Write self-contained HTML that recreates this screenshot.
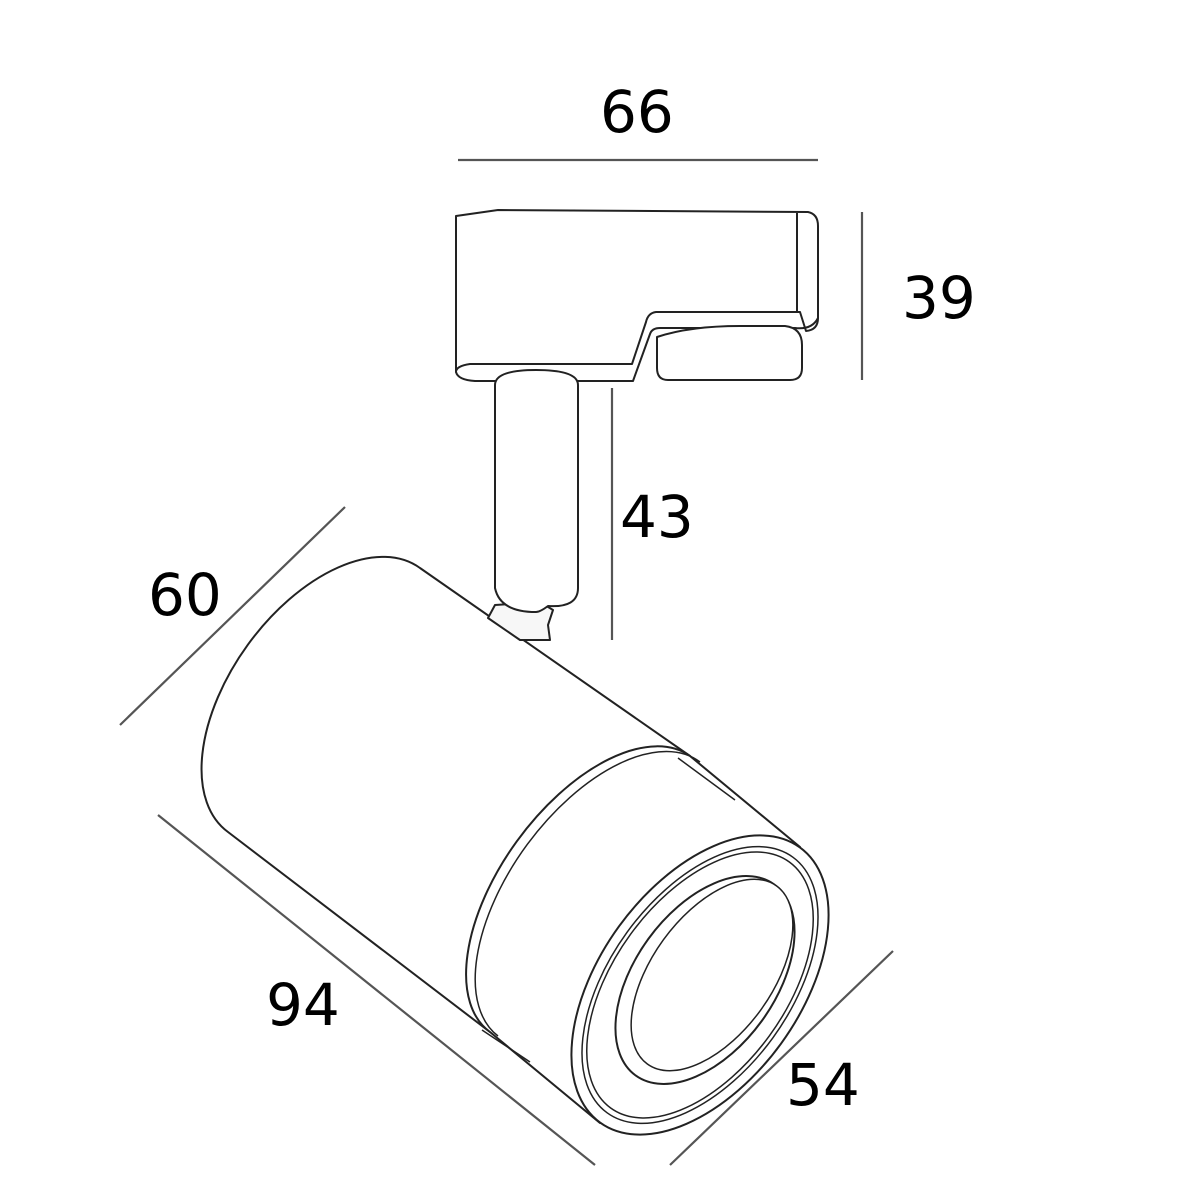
<!DOCTYPE html>
<html><head><meta charset="utf-8"><style>
html,body{margin:0;padding:0;background:#fff;}
svg{display:block;}
text{font-family:"DejaVu Sans","Liberation Sans",sans-serif;font-size:58px;fill:#000;}
</style></head><body>
<svg width="1200" height="1200" viewBox="0 0 1200 1200" xmlns="http://www.w3.org/2000/svg">
<g stroke="#555" stroke-width="2.2" fill="none">
<line x1="458" y1="160" x2="818" y2="160"/>
<line x1="862" y1="212" x2="862" y2="380"/>
<line x1="612" y1="388" x2="612" y2="640"/>
<line x1="120" y1="725" x2="345" y2="507"/>
<line x1="158" y1="815" x2="595" y2="1165"/>
<line x1="670" y1="1165" x2="893" y2="951"/>
</g>
<text x="600" y="132">66</text>
<text x="902" y="318">39</text>
<text x="620" y="537">43</text>
<text x="148" y="615">60</text>
<text x="266" y="1025">94</text>
<text x="786" y="1105">54</text>

<g stroke="#222" stroke-width="2" fill="#fff" stroke-linejoin="round">
<!-- adapter -->
<path d="M456,216 L498,210 L808,212 Q818,214 818,226 L818,318 Q818,330 806,331 L800,312 L656,312 Q648,313 646,322 L632,364 L470,364 Q456,366 456,372 Z"/>
<path d="M456,372 Q458,380 475,381 L633,381 L650,334 Q652,328 660,328 L795,328 Q812,330 818,318" fill="none"/>
<line x1="797" y1="213" x2="797" y2="312"/>
<path d="M657,337 Q690,326 740,326 L785,326 Q802,328 802,345 L802,368 Q802,380 790,380 L668,380 Q657,380 657,368 Z"/>
<!-- body -->
<path d="M420,568 L690,756 L490,1032 L228,832 A94 163 36 0 1 420,568 Z"/>
<!-- knuckle -->
<path d="M495,605 L540,602 L553,610 L548,625 L550,640 L520,640 L488,618 Z" fill="#f7f7f7"/>
<!-- stem -->
<path d="M495,385 Q495,370 536,370 Q578,370 578,385 L578,588 Q578,608 548,606 Q540,612 536,612 Q500,612 495,588 Z"/>
<!-- collar -->
<path d="M690,756 L800,847 L600,1123 L490,1032 A90 170 36 0 1 690,756 Z"/>
<path d="M700,762 A90 170 36 0 0 498,1036" fill="none" stroke-width="1.5"/>
<path d="M678,758 L735,800" fill="none" stroke-width="1.5"/>
<path d="M482,1030 L530,1062" fill="none" stroke-width="1.5"/>
<ellipse cx="700" cy="985" rx="100" ry="170" transform="rotate(36 700 985)"/>
<ellipse cx="700" cy="985" rx="90" ry="158" transform="rotate(36 700 985)" stroke-width="1.5"/>
<ellipse cx="700" cy="985" rx="86" ry="152" transform="rotate(36 700 985)" stroke-width="1.5"/>
<ellipse cx="705" cy="980" rx="70" ry="118" transform="rotate(36 705 980)"/>
<ellipse cx="712" cy="975" rx="60" ry="110" transform="rotate(36 712 975)" stroke-width="1.5"/>
</g>
</svg>
</body></html>
